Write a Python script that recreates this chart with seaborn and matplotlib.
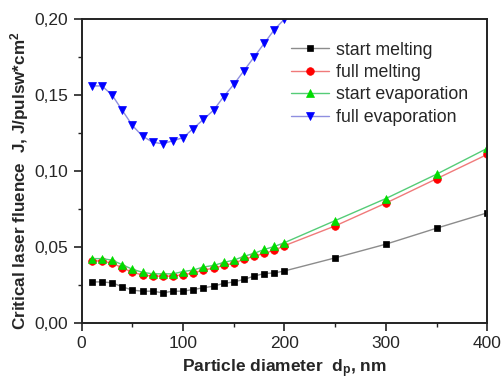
import matplotlib
matplotlib.use("Agg")
import matplotlib.pyplot as plt
import seaborn as sns
import pandas as pd
from matplotlib.ticker import MultipleLocator, FuncFormatter

sns.set_style("white")
plt.rcParams['font.family'] = ['Liberation Sans', 'DejaVu Sans']
plt.rcParams['mathtext.fontset'] = 'custom'
plt.rcParams['mathtext.rm'] = 'Liberation Sans:bold'
plt.rcParams['mathtext.bf'] = 'Liberation Sans:bold'
plt.rcParams['mathtext.it'] = 'Liberation Sans:bold'

diam = [10, 20, 30, 40, 50, 60, 70, 80, 90, 100, 110, 120, 130, 140, 150, 160,
        170, 180, 190, 200, 250, 300, 350, 400]
start_melting = [0.0272, 0.0272, 0.0266, 0.0240, 0.0218, 0.0211, 0.0211, 0.0200,
                 0.0211, 0.0211, 0.0222, 0.0233, 0.0244, 0.0262, 0.0272, 0.0288,
                 0.0310, 0.0327, 0.0331, 0.0344, 0.0430, 0.0520, 0.0625, 0.0726]
full_melting = [0.0410, 0.0410, 0.0395, 0.0365, 0.0335, 0.0318, 0.0310, 0.0310,
                0.0310, 0.0320, 0.0330, 0.0350, 0.0362, 0.0380, 0.0395, 0.0420,
                0.0440, 0.0460, 0.0480, 0.0510, 0.0640, 0.0790, 0.0950, 0.1110]
start_evaporation = [0.0425, 0.0425, 0.0415, 0.0385, 0.0355, 0.0335, 0.0325, 0.0325,
                     0.0325, 0.0340, 0.0350, 0.0370, 0.0380, 0.0400, 0.0415, 0.0440,
                     0.0460, 0.0485, 0.0505, 0.0530, 0.0675, 0.0820, 0.0980, 0.1150]
diam_fe = [10, 20, 30, 40, 50, 60, 70, 80, 90, 100, 110, 120, 130, 140, 150, 160,
           170, 180, 190, 200]
full_evaporation = [0.156, 0.156, 0.150, 0.140, 0.130, 0.123, 0.119, 0.118, 0.120,
                    0.122, 0.128, 0.134, 0.140, 0.149, 0.157, 0.166, 0.175, 0.184,
                    0.193, 0.200]

fig = plt.figure(figsize=(5.03, 3.76), dpi=100)
ax = fig.add_axes([0.1624, 0.1402, 0.8064, 0.8093])

series = [
    ("start melting", diam, start_melting, "s", "#000000", "#8c8c8c", 5.0),
    ("full melting", diam, full_melting, "o", "#ff0000", "#f07a7a", 5.5),
    ("start evaporation", diam, start_evaporation, "^", "#00dd00", "#55cc77", 6.0),
    ("full evaporation", diam_fe, full_evaporation, "v", "#0000ff", "#8f8fe0", 6.0),
]
for name, xs, ys, mk, mc, lc, ms in series:
    df = pd.DataFrame({"x": xs, "y": ys})
    sns.lineplot(data=df, x="x", y="y", ax=ax, color=lc, lw=1.0,
                 marker=mk, markersize=ms, markerfacecolor=mc,
                 markeredgecolor=mc, markeredgewidth=0.5, label=name,
                 clip_on=True)

ax.set_xlim(0, 400)
ax.set_ylim(0, 0.20)
ax.xaxis.set_major_locator(MultipleLocator(100))
ax.xaxis.set_minor_locator(MultipleLocator(50))
ax.yaxis.set_major_locator(MultipleLocator(0.05))
ax.yaxis.set_minor_locator(MultipleLocator(0.025))
ax.yaxis.set_major_formatter(FuncFormatter(lambda v, p: f"{v:.2f}".replace(".", ",")))
ax.xaxis.set_major_formatter(FuncFormatter(lambda v, p: f"{v:.0f}"))
ax.tick_params(which="major", direction="out", length=6, width=1.2,
               labelsize=12.5, color="#222222", bottom=True, left=True)
ax.tick_params(which="minor", direction="out", length=3, width=1.0,
               color="#222222", bottom=True, left=True)
for s in ax.spines.values():
    s.set_linewidth(1.4)
    s.set_color("#222222")

ax.set_xlabel("Particle diameter  d$_{p}$, nm", fontsize=12.5, fontweight="bold")
ax.set_ylabel("Critical laser fluence  J, J/pulsw*cm$^{2}$", fontsize=12.3,
              fontweight="bold")
ax.xaxis.set_label_coords(0.5, -0.112)
ax.yaxis.set_label_coords(-0.125, 0.47)

leg = ax.legend(loc="upper right", frameon=False, fontsize=12.75,
                handlelength=2.15, handletextpad=0.4, labelspacing=0.31,
                borderaxespad=0.7, bbox_to_anchor=(1.0, 0.99))

fig.savefig("out.png", dpi=100)
